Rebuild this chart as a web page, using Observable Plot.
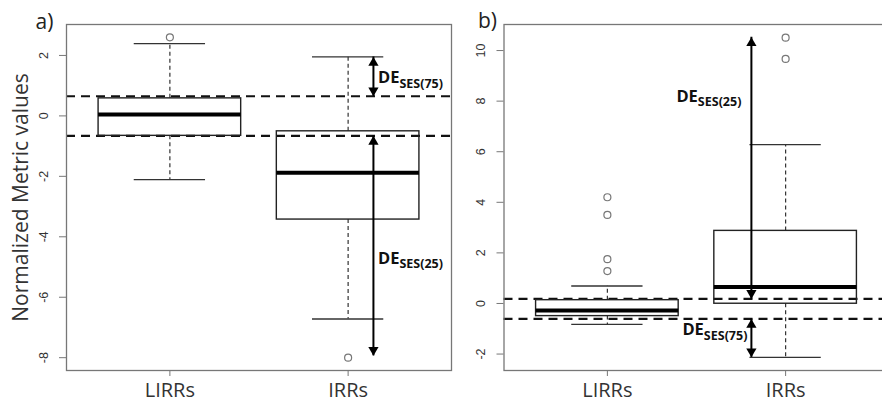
<!DOCTYPE html>
<html><head><meta charset="utf-8">
<script src="https://cdn.jsdelivr.net/npm/d3@7"></script>
<script src="https://cdn.jsdelivr.net/npm/@observablehq/plot@0.6"></script>
<style>
html,body{margin:0;padding:0;background:#fff;}
#wrap{position:relative;width:882px;height:402px;overflow:hidden;background:#fff;}
#wrap > svg{position:absolute;top:0;}
</style></head><body><div id="wrap"></div>
<script>
// ---- categories ----
const categories = ["LIRRs", "IRRs"];
const catPos = [1, 2];

// ---- panel a) ----
const aLower  = [-2.11, -6.72];
const aQ1     = [-0.66, -3.43];
const aMedian = [0.05, -1.88];
const aQ3     = [0.58, -0.51];
const aUpper  = [2.39, 1.95];
const aOutlierCat = [1, 2];
const aOutlierVal = [2.6, -8.0];
const aRefLines = [0.65, -0.66];
const aTicks = [2, 0, -2, -4, -6, -8];
const aArrowSub = ["SES(75)", "SES(25)"];
const aArrowFrom = [1.95, -0.66];
const aArrowTo   = [0.65, -7.94];
const aArrowLabelY = [1.24, -4.72];

// ---- panel b) ----
const bLower  = [-0.83, -2.13];
const bQ1     = [-0.50, -0.01];
const bMedian = [-0.28, 0.65];
const bQ3     = [0.13, 2.87];
const bUpper  = [0.69, 6.28];
const bOutlierCat = [1, 1, 1, 1, 2, 2];
const bOutlierVal = [4.2, 3.5, 1.75, 1.28, 10.51, 9.67];
const bRefLines = [0.18, -0.61];
const bTicks = [-2, 0, 2, 4, 6, 8, 10];
const bArrowSub = ["SES(25)", "SES(75)"];
const bArrowFrom = [0.18, -0.61];
const bArrowTo   = [10.53, -2.13];
const bArrowLabelY = [8.17, -1.06];

const yTitle = "Normalized Metric values";

// ---- helpers ----
const ctx = document.createElement("canvas").getContext("2d");
function textW(str, font) { ctx.font = font; return ctx.measureText(str).width; }
const DE_FONT = 16.5, SUB_FONT = 12.5, LABEL_FAMILY = "'Open Sans', sans-serif";
const wDE = () => textW("DE", `bold ${DE_FONT}px 'Open Sans'`);
const wSub = (s) => textW(s, `bold ${SUB_FONT}px 'Open Sans'`);

function panel({lower, q1, median, q3, upper, oCat, oVal, refs, ticks, domain,
                arrowX, subs, from, to, labelY, labelSide, labelEnd, letter, letterDx, letterDy,
                showTitle, width, marginLeft, marginRight, left}) {
  const rows = categories.map((c, i) => ({x: catPos[i], lower: lower[i], q1: q1[i], med: median[i], q3: q3[i], upper: upper[i]}));
  const outs = oVal.map((v, i) => ({x: oCat[i], y: v}));
  const arrows = subs.map((s, i) => ({x: arrowX, y1: from[i], y2: to[i], ly: labelY[i], sub: s}));
  const HB = 0.4, HC = 0.2;
  const headR = 3.8;
  const tip = 2 * Math.sqrt(headR * headR * Math.PI / (Math.sqrt(3) * 3));
  const labelMarks = [];
  arrows.forEach((a, i) => {
    const dw = wDE(), sw = wSub(a.sub);
    let dxDE, dxSub;
    if (labelSide === "right") { dxDE = 4.5; dxSub = 4.5 + dw; }
    else { const end = labelEnd[i]; dxSub = end - sw; dxDE = end - sw - dw; }
    labelMarks.push(Plot.text([a], {x: "x", y: "ly", text: () => "DE", dx: dxDE, dy: 5, textAnchor: "start", lineAnchor: "bottom",
      fontSize: DE_FONT, fontWeight: "bold", fontFamily: LABEL_FAMILY, fill: "#111"}));
    labelMarks.push(Plot.text([a], {x: "x", y: "ly", text: "sub", dx: dxSub, dy: 9.5, textAnchor: "start", lineAnchor: "bottom",
      fontSize: SUB_FONT, fontWeight: "bold", fontFamily: LABEL_FAMILY, fill: "#111"}));
  });
  const svg = Plot.plot({
    width, height: 402,
    marginLeft, marginRight, marginTop: 24, marginBottom: 32,
    style: {background: "none", overflow: "visible"},
    x: {type: "linear", domain: [0.42, 2.58], axis: null},
    y: {domain, axis: null},
    marks: [
      Plot.ruleY(refs, {stroke: "#111", strokeWidth: 2.2, strokeDasharray: "9,6"}),
      Plot.ruleX(rows, {x: "x", y1: "q3", y2: "upper", stroke: "#333", strokeWidth: 1.2, strokeDasharray: "4,3"}),
      Plot.ruleX(rows, {x: "x", y1: "q1", y2: "lower", stroke: "#333", strokeWidth: 1.2, strokeDasharray: "4,3"}),
      Plot.ruleY(rows, {y: "upper", x1: d => d.x - HC, x2: d => d.x + HC, stroke: "#333", strokeWidth: 1.3}),
      Plot.ruleY(rows, {y: "lower", x1: d => d.x - HC, x2: d => d.x + HC, stroke: "#333", strokeWidth: 1.3}),
      Plot.rect(rows, {x1: d => d.x - HB, x2: d => d.x + HB, y1: "q1", y2: "q3", fill: "none", stroke: "#222", strokeWidth: 1.4}),
      Plot.ruleY(rows, {y: "med", x1: d => d.x - HB, x2: d => d.x + HB, stroke: "#000", strokeWidth: 4}),
      Plot.dot(outs, {x: "x", y: "y", r: 3.5, stroke: "#777", strokeWidth: 1.2, fill: "white"}),
      Plot.ruleX(arrows, {x: "x", y1: "y1", y2: "y2", stroke: "#000", strokeWidth: 2}),
      Plot.dot(arrows, {x: "x", y: d => Math.max(d.y1, d.y2), symbol: "triangle", r: headR, fill: "#000", stroke: "none", dy: tip}),
      Plot.dot(arrows, {x: "x", y: d => Math.min(d.y1, d.y2), symbol: "triangle", r: headR, rotate: 180, fill: "#000", stroke: "none", dy: -tip}),
      ...labelMarks,
      Plot.frame({stroke: "#777", strokeWidth: 1.3}),
      Plot.axisY(ticks, {tickRotate: -90, tickSize: 7, tickPadding: 12, fontSize: 12.5, fontFamily: "'Liberation Sans', Arial, sans-serif",
        tickFormat: d => String(d), stroke: "#777", fill: "#333", label: null}),
      Plot.axisX(catPos, {tickSize: 6, tickPadding: 6, fontSize: 20, fontFamily: LABEL_FAMILY,
        tickFormat: d => categories[d - 1], stroke: "#777", fill: "#333", label: null}),
      Plot.text([letter], {frameAnchor: "top-left", text: d => d, dx: letterDx, dy: letterDy, textAnchor: "start", lineAnchor: "bottom",
        fontSize: 21, fontFamily: LABEL_FAMILY, fill: "#222"}),
      ...(showTitle ? [Plot.text([yTitle], {frameAnchor: "left", text: d => d, rotate: -90, dx: -45, textAnchor: "middle", lineAnchor: "middle",
        fontSize: 21, fontFamily: LABEL_FAMILY, fill: "#333"})] : [])
    ]
  });
  svg.style.left = left + "px";
  return svg;
}

const wrap = document.getElementById("wrap");
wrap.appendChild(panel({
  lower: aLower, q1: aQ1, median: aMedian, q3: aQ3, upper: aUpper, oCat: aOutlierCat, oVal: aOutlierVal,
  refs: aRefLines, ticks: aTicks, domain: [-8.424, 3.024],
  arrowX: 2.142, subs: aArrowSub, from: aArrowFrom, to: aArrowTo, labelY: aArrowLabelY, labelSide: "right",
  letter: "a)", letterDx: -31, letterDy: 4, showTitle: true,
  width: 460, marginLeft: 66, marginRight: 9, left: 0
}));
wrap.appendChild(panel({
  lower: bLower, q1: bQ1, median: bMedian, q3: bQ3, upper: bUpper, oCat: bOutlierCat, oVal: bOutlierVal,
  refs: bRefLines, ticks: bTicks, domain: [-2.65, 11.03],
  arrowX: 1.808, subs: bArrowSub, from: bArrowFrom, to: bArrowTo, labelY: bArrowLabelY, labelSide: "left", labelEnd: [-10, -4],
  letter: "b)", letterDx: -26, letterDy: 3, showTitle: false,
  width: 460, marginLeft: 63.5, marginRight: 11.5, left: 440
}));
</script>
</body></html>
